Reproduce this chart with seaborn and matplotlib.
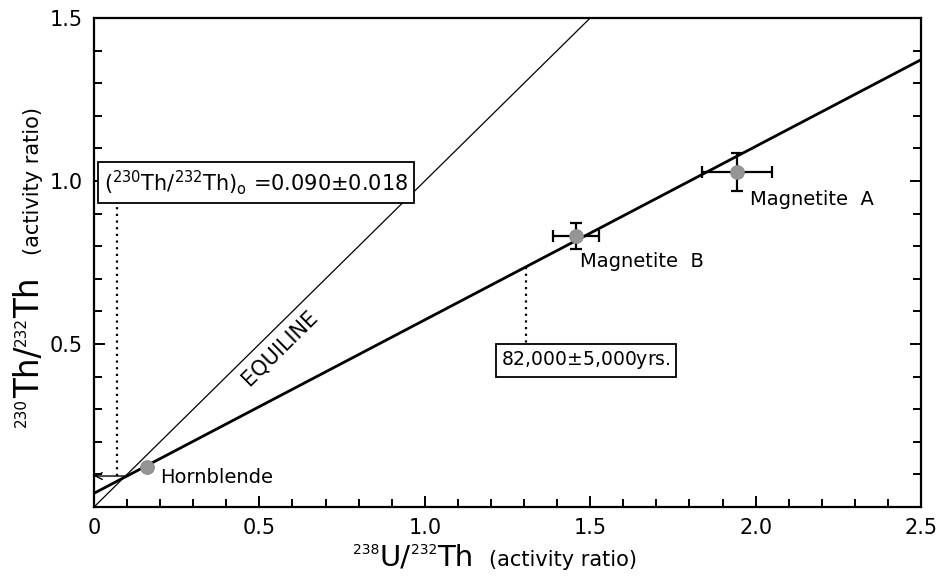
import numpy as np
import pandas as pd
import matplotlib
matplotlib.use("Agg")
import matplotlib.pyplot as plt
from matplotlib import transforms as mtrans
import seaborn as sns

# ---- data ----
samples = ["Hornblende", "Magnetite B", "Magnetite A"]
u_th = [0.160, 1.457, 1.944]          # 238U/232Th activity ratio
th_th = [0.123, 0.831, 1.028]         # 230Th/232Th activity ratio
u_th_err = [0.0, 0.070, 0.107]
th_th_err = [0.0, 0.040, 0.058]

isochron_intercept = 0.042
isochron_slope = 0.532
equiline_slope = 1.0

x_ticks = [0, 0.5, 1.0, 1.5, 2.0, 2.5]
x_tick_labels = ["0", "0.5", "1.0", "1.5", "2.0", "2.5"]
y_ticks = [0.5, 1.0, 1.5]
y_tick_labels = ["0.5", "1.0", "1.5"]

initial_ratio_text = r"($^{230}$Th/$^{232}$Th)$_{\mathrm{o}}$ =0.090$\pm$0.018"
age_text = r"82,000$\pm$5,000yrs."

sns.set_theme(style="ticks")
plt.rcParams["font.family"] = ["DejaVu Sans"]
plt.rcParams["mathtext.fontset"] = "dejavusans"
plt.rcParams["text.color"] = "black"
plt.rcParams["axes.labelcolor"] = "black"

fig = plt.figure(figsize=(9.48, 5.83), dpi=100)
ax = fig.add_axes([94 / 948, 1 - 507 / 583, 827 / 948, 489 / 583])

df = pd.DataFrame({"sample": samples, "x": u_th, "y": th_th,
                   "xerr": u_th_err, "yerr": th_th_err})

# lines
xs = np.array([0.0, 2.5])
iso = pd.DataFrame({"x": xs, "y": isochron_intercept + isochron_slope * xs})
sns.lineplot(data=iso, x="x", y="y", ax=ax, color="black", lw=2.0, zorder=3)
xe = np.array([0.0, 1.5])
eq = pd.DataFrame({"x": xe, "y": equiline_slope * xe})
sns.lineplot(data=eq, x="x", y="y", ax=ax, color="black", lw=0.9, zorder=3)

# error bars
err = df[df["xerr"] > 0]
ax.errorbar(err["x"], err["y"], xerr=err["xerr"], yerr=err["yerr"], fmt="none",
            ecolor="black", elinewidth=1.6, capsize=4, capthick=1.6, zorder=4)
sns.scatterplot(data=df, x="x", y="y", ax=ax, s=100, color="#959595",
                edgecolor="#858585", linewidth=0.5, zorder=5, legend=False)

# sample labels
ax.text(0.20, 0.092, "Hornblende", fontsize=14, va="center", ha="left")
ax.text(1.469, 0.752, "Magnetite  B", fontsize=14, va="center", ha="left")
ax.text(1.983, 0.942, "Magnetite  A", fontsize=14, va="center", ha="left")

# equiline label
ax.text(0.56, 0.487, "EQUILINE", fontsize=15, rotation=44.6,
        ha="center", va="center")

# initial ratio annotation
ax.annotate("", xy=(0.0, 0.095), xytext=(0.103, 0.095),
            arrowprops=dict(arrowstyle="->", color="black", lw=1.0,
                            shrinkA=0, shrinkB=0), zorder=3)
ax.plot([0.069, 0.069], [0.095, 0.933], color="black", lw=1.6,
        linestyle=(0, (1, 2)), zorder=2)
ax.text(0.49, 0.995, initial_ratio_text, fontsize=15, ha="center",
        va="center", zorder=6,
        bbox=dict(boxstyle="square,pad=0.3", fc="white", ec="black", lw=1.3))

# age annotation
ax.plot([1.306, 1.306], [isochron_intercept + isochron_slope * 1.306, 0.5],
        color="black", lw=1.6, linestyle=(0, (1, 2)), zorder=2)
ax.text(1.487, 0.45, age_text, fontsize=13.5, ha="center", va="center",
        zorder=6,
        bbox=dict(boxstyle="square,pad=0.3", fc="white", ec="black", lw=1.3))

# axes
ax.set_xlim(0, 2.5)
ax.set_ylim(0, 1.5)
ax.set_xticks(x_ticks)
ax.set_xticklabels(x_tick_labels)
ax.set_yticks(y_ticks)
ax.set_yticklabels(y_tick_labels)
ax.set_xticks(np.arange(0, 2.51, 0.1), minor=True)
ax.set_yticks(np.arange(0, 1.51, 0.1), minor=True)
ax.tick_params(which="both", direction="in", width=1.4, colors="black",
               labelsize=15, pad=8, top=False, right=True, labelright=False)
ax.tick_params(which="major", length=8)
ax.tick_params(which="minor", length=5.8)
for s in ax.spines.values():
    s.set_visible(True)
    s.set_linewidth(1.6)
    s.set_color("black")
ax.set_xlabel("")
ax.set_ylabel("")


def piece_label(x, y, pieces, rotation=0):
    """Draw a label made of pieces (text, size, rise_px), centred at (x, y)."""
    r = fig.canvas.get_renderer()
    widths = []
    for s, size, rise in pieces:
        t = fig.text(0, 0, s, fontsize=size)
        widths.append(t.get_window_extent(r).width)
        t.remove()
    pos = -sum(widths) / 2
    for (s, size, rise), w in zip(pieces, widths):
        if rotation == 0:
            tr = mtrans.offset_copy(fig.transFigure, fig=fig, x=pos, y=rise,
                                    units="dots")
        else:
            tr = mtrans.offset_copy(fig.transFigure, fig=fig, x=-rise, y=pos,
                                    units="dots")
        fig.text(x, y, s, fontsize=size, transform=tr, ha="left",
                 va="baseline", rotation=rotation, rotation_mode="anchor")
        pos += w


sup = 10
big = 21
rise = 12
piece_label(413 / 948, 1 - 566 / 583,
            [("238", sup, rise), ("U/", big, 0), ("232", sup, rise), ("Th", big, 0)])
fig.text(563 / 948, 1 - 566 / 583, "(activity ratio)", fontsize=15,
         ha="center", va="baseline")
piece_label(39 / 948, 1 - 352 / 583,
            [("230", 11, 13), ("Th/", 23.5, 0), ("232", 11, 13), ("Th", 23.5, 0)],
            rotation=90)
fig.text(39 / 948, 1 - 181 / 583, "(activity ratio)", fontsize=15,
         ha="center", va="baseline", rotation=90, rotation_mode="anchor")

fig.savefig("out.png", dpi=100)
